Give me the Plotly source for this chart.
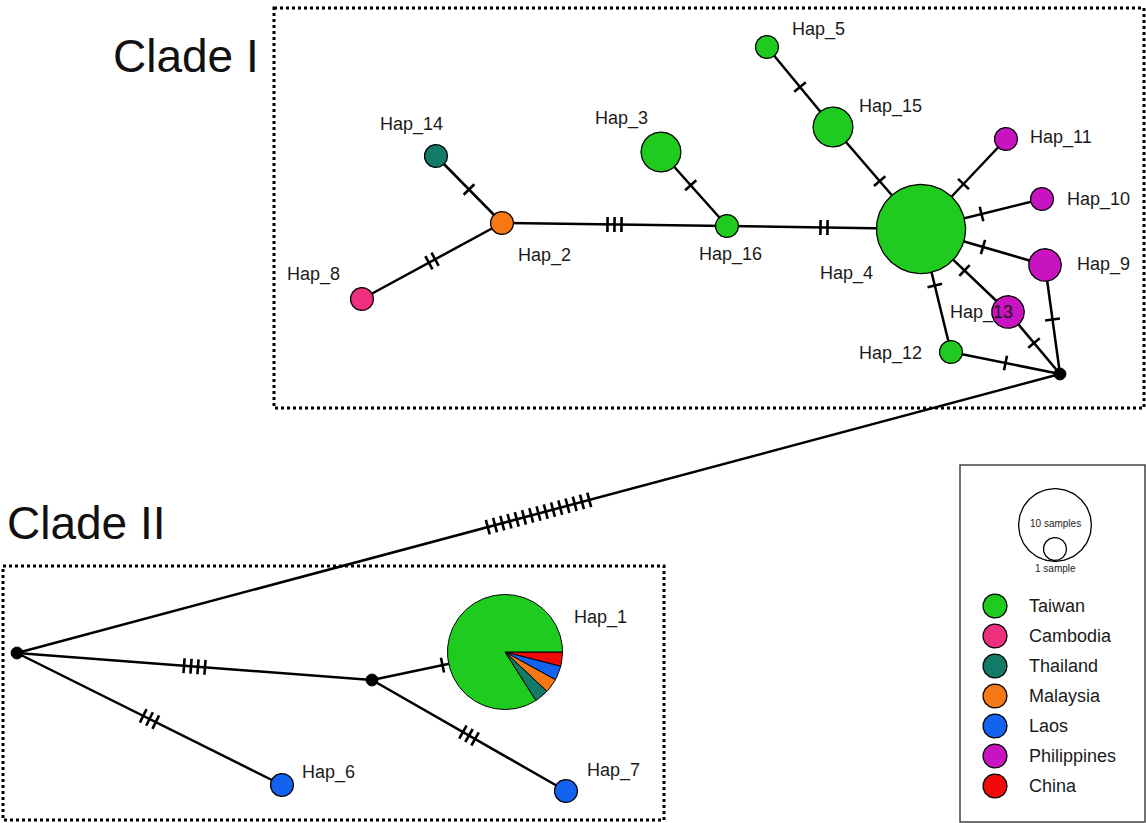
import math
import plotly.graph_objects as go

# ---------------- data ----------------
countries = ["Taiwan", "Cambodia", "Thailand", "Malaysia", "Laos", "Philippines", "China"]
country_colors = ["#1ecb1e", "#f0307f", "#137a68", "#f57815", "#1463f0", "#c814c0", "#f00a0a"]

hap_names = ["Hap_1", "Hap_2", "Hap_3", "Hap_4", "Hap_5", "Hap_6", "Hap_7", "Hap_8",
             "Hap_9", "Hap_10", "Hap_11", "Hap_12", "Hap_13", "Hap_14", "Hap_15", "Hap_16"]
hap_x = [505, 502, 661, 921, 767, 282, 566, 362, 1045, 1042, 1006, 951, 1008, 436, 833, 727]
hap_y = [652, 223, 152, 229, 47, 785, 791, 299, 265, 199, 139, 352, 312, 156, 127, 226]

# sample counts per country for each haplotype (Hap_1 ... Hap_16)
taiwan      = [21, 0, 3, 15, 1, 0, 0, 0, 0, 0, 0, 1, 0, 0, 3, 1]
cambodia    = [0, 0, 0, 0, 0, 0, 0, 1, 0, 0, 0, 0, 0, 0, 0, 0]
thailand    = [1, 0, 0, 0, 0, 0, 0, 0, 0, 0, 0, 0, 0, 1, 0, 0]
malaysia    = [1, 1, 0, 0, 0, 0, 0, 0, 0, 0, 0, 0, 0, 0, 0, 0]
laos        = [1, 0, 0, 0, 0, 1, 1, 0, 0, 0, 0, 0, 0, 0, 0, 0]
philippines = [0, 0, 0, 0, 0, 0, 0, 0, 2, 1, 1, 0, 2, 0, 0, 0]
china       = [1, 0, 0, 0, 0, 0, 0, 0, 0, 0, 0, 0, 0, 0, 0, 0]

median_names = ["mv1", "mv2", "mv3"]
median_x = [1060, 17, 372]
median_y = [374, 653, 680]

edge_from = ["Hap_14", "Hap_8", "Hap_2", "Hap_3", "Hap_16", "Hap_5", "Hap_15", "Hap_11", "Hap_10",
             "Hap_9", "Hap_13", "Hap_12", "Hap_9", "Hap_13", "Hap_12", "mv1",
             "mv2", "mv3", "mv2", "mv3"]
edge_to = ["Hap_2", "Hap_2", "Hap_16", "Hap_16", "Hap_4", "Hap_15", "Hap_4", "Hap_4", "Hap_4",
           "Hap_4", "Hap_4", "Hap_4", "mv1", "mv1", "mv1", "mv2",
           "mv3", "Hap_1", "Hap_6", "Hap_7"]
edge_mutations = [1, 2, 3, 1, 2, 1, 1, 1, 1, 1, 1, 1, 1, 1, 1, 15, 4, 1, 3, 3]

# ---------------- styling / layout ----------------
W, H = 1146, 823
R1 = 11.5  # radius (px) of a one-sample circle
# order of wedges drawn clockwise from 3 o'clock
pie_order = ["China", "Laos", "Malaysia", "Thailand", "Cambodia", "Philippines", "Taiwan"]
tick_frac = {("Hap_15", "Hap_4"): 0.53, ("mv3", "Hap_1"): 0.53, ("Hap_12", "Hap_4"): 0.54,
             ("Hap_3", "Hap_16"): 0.45}
label_pos = {"Hap_5": (790, 29), "Hap_15": (857, 106), "Hap_11": (1028, 137), "Hap_10": (1065, 199),
             "Hap_9": (1075, 264), "Hap_13": (948, 312), "Hap_12": (857, 353), "Hap_4": (818, 273),
             "Hap_16": (697, 254), "Hap_3": (593, 118), "Hap_2": (516, 255), "Hap_14": (378, 124),
             "Hap_8": (285, 274), "Hap_1": (572, 617), "Hap_6": (300, 772), "Hap_7": (585, 770)}
FONT = "Liberation Sans, Arial, sans-serif"

counts_by_country = {"Taiwan": taiwan, "Cambodia": cambodia, "Thailand": thailand,
                     "Malaysia": malaysia, "Laos": laos, "Philippines": philippines, "China": china}
color_of = dict(zip(countries, country_colors))

pos = {n: (x, y) for n, x, y in zip(hap_names, hap_x, hap_y)}
pos.update({n: (x, y) for n, x, y in zip(median_names, median_x, median_y)})

fig = go.Figure()

# edges
ex, ey = [], []
tx, ty = [], []
for a, b, m in zip(edge_from, edge_to, edge_mutations):
    (x0, y0), (x1, y1) = pos[a], pos[b]
    ex += [x0, x1, None]
    ey += [y0, y1, None]
    L = math.hypot(x1 - x0, y1 - y0)
    ux, uy = (x1 - x0) / L, (y1 - y0) / L
    px, py = -uy, ux
    f = tick_frac.get((a, b), 0.5)
    cx, cy = x0 + f * (x1 - x0), y0 + f * (y1 - y0)
    sp = 7.5 if m > 4 else 7.0
    for k in range(m):
        off = (k - (m - 1) / 2) * sp
        mx, my = cx + ux * off, cy + uy * off
        tx += [mx - px * 7.5, mx + px * 7.5, None]
        ty += [my - py * 7.5, my + py * 7.5, None]
fig.add_trace(go.Scatter(x=ex, y=ey, mode="lines", line=dict(color="black", width=2.5),
                         hoverinfo="skip", showlegend=False))
fig.add_trace(go.Scatter(x=tx, y=ty, mode="lines", line=dict(color="black", width=2.6),
                         hoverinfo="skip", showlegend=False))


def circle_pts(cx, cy, r, a0=0.0, a1=2 * math.pi, n=120, wedge=False):
    steps = max(4, int(n * (a1 - a0) / (2 * math.pi)))
    xs = [cx + r * math.cos(a0 + (a1 - a0) * i / steps) for i in range(steps + 1)]
    ys = [cy + r * math.sin(a0 + (a1 - a0) * i / steps) for i in range(steps + 1)]
    if wedge:
        xs = [cx] + xs + [cx]
        ys = [cy] + ys + [cy]
    return xs, ys


# haplotype nodes
for i, name in enumerate(hap_names):
    parts = [(c, counts_by_country[c][i]) for c in pie_order if counts_by_country[c][i] > 0]
    total = sum(v for _, v in parts)
    r = R1 * math.sqrt(total)
    cx, cy = hap_x[i], hap_y[i]
    if len(parts) == 1:
        xs, ys = circle_pts(cx, cy, r)
        fig.add_trace(go.Scatter(x=xs, y=ys, mode="lines", fill="toself",
                                 fillcolor=color_of[parts[0][0]], line=dict(color="black", width=1.3),
                                 hoverinfo="skip", showlegend=False))
    else:
        a = 0.0
        for c, v in parts:
            a1 = a + 2 * math.pi * v / total
            xs, ys = circle_pts(cx, cy, r, a, a1, n=240, wedge=True)
            fig.add_trace(go.Scatter(x=xs, y=ys, mode="lines", fill="toself",
                                     fillcolor=color_of[c], line=dict(color="black", width=1),
                                     hoverinfo="skip", showlegend=False))
            a = a1

# median vectors
for n in median_names:
    xs, ys = circle_pts(*pos[n], 6)
    fig.add_trace(go.Scatter(x=xs, y=ys, mode="lines", fill="toself", fillcolor="black",
                             line=dict(color="black", width=1), hoverinfo="skip", showlegend=False))

annotations = []
for name in hap_names:
    lx, ly = label_pos[name]
    annotations.append(dict(x=lx, y=ly, text=name, showarrow=False, xanchor="left", yanchor="middle",
                            font=dict(family=FONT, size=18, color="#1a1a1a")))
annotations.append(dict(x=186, y=56, text="Clade I", showarrow=False, xanchor="center", yanchor="middle",
                        font=dict(family=FONT, size=46, color="#111")))
annotations.append(dict(x=86, y=523, text="Clade II", showarrow=False, xanchor="center", yanchor="middle",
                        font=dict(family=FONT, size=46, color="#111")))

shapes = [
    dict(type="rect", x0=274, y0=8, x1=1144, y1=408, line=dict(color="black", width=3, dash="dot")),
    dict(type="rect", x0=3, y0=566, x1=664, y1=820, line=dict(color="black", width=3, dash="dot")),
    dict(type="rect", x0=960, y0=465, x1=1145, y1=822, line=dict(color="#444", width=1.5)),
]

# size legend
for rr, cyy in [(R1 * math.sqrt(10), 525), (R1, 549)]:
    xs, ys = circle_pts(1055, cyy, rr)
    fig.add_trace(go.Scatter(x=xs, y=ys, mode="lines", line=dict(color="black", width=1.3),
                             hoverinfo="skip", showlegend=False))
annotations.append(dict(x=1055, y=523, text="10 samples", showarrow=False, font=dict(family=FONT, size=10, color="#222")))
annotations.append(dict(x=1055, y=568, text="1 sample", showarrow=False, font=dict(family=FONT, size=10, color="#222")))

# colour legend
for k, (c, col) in enumerate(zip(countries, country_colors)):
    yy = 606 + 30 * k
    xs, ys = circle_pts(995, yy, 12)
    fig.add_trace(go.Scatter(x=xs, y=ys, mode="lines", fill="toself", fillcolor=col,
                             line=dict(color="black", width=1.3), hoverinfo="skip", showlegend=False))
    annotations.append(dict(x=1027, y=yy, text=c, showarrow=False, xanchor="left", yanchor="middle",
                            font=dict(family=FONT, size=18, color="#1a1a1a")))

fig.update_layout(
    width=W, height=H, margin=dict(l=0, r=0, t=0, b=0),
    paper_bgcolor="white", plot_bgcolor="white",
    xaxis=dict(range=[0, W], visible=False, fixedrange=True),
    yaxis=dict(range=[H, 0], visible=False, fixedrange=True),
    annotations=annotations, shapes=shapes, showlegend=False,
)

fig.write_html("out.html", config={"displayModeBar": False},
               post_script="document.body.style.margin='0';document.body.style.overflow='hidden';")
